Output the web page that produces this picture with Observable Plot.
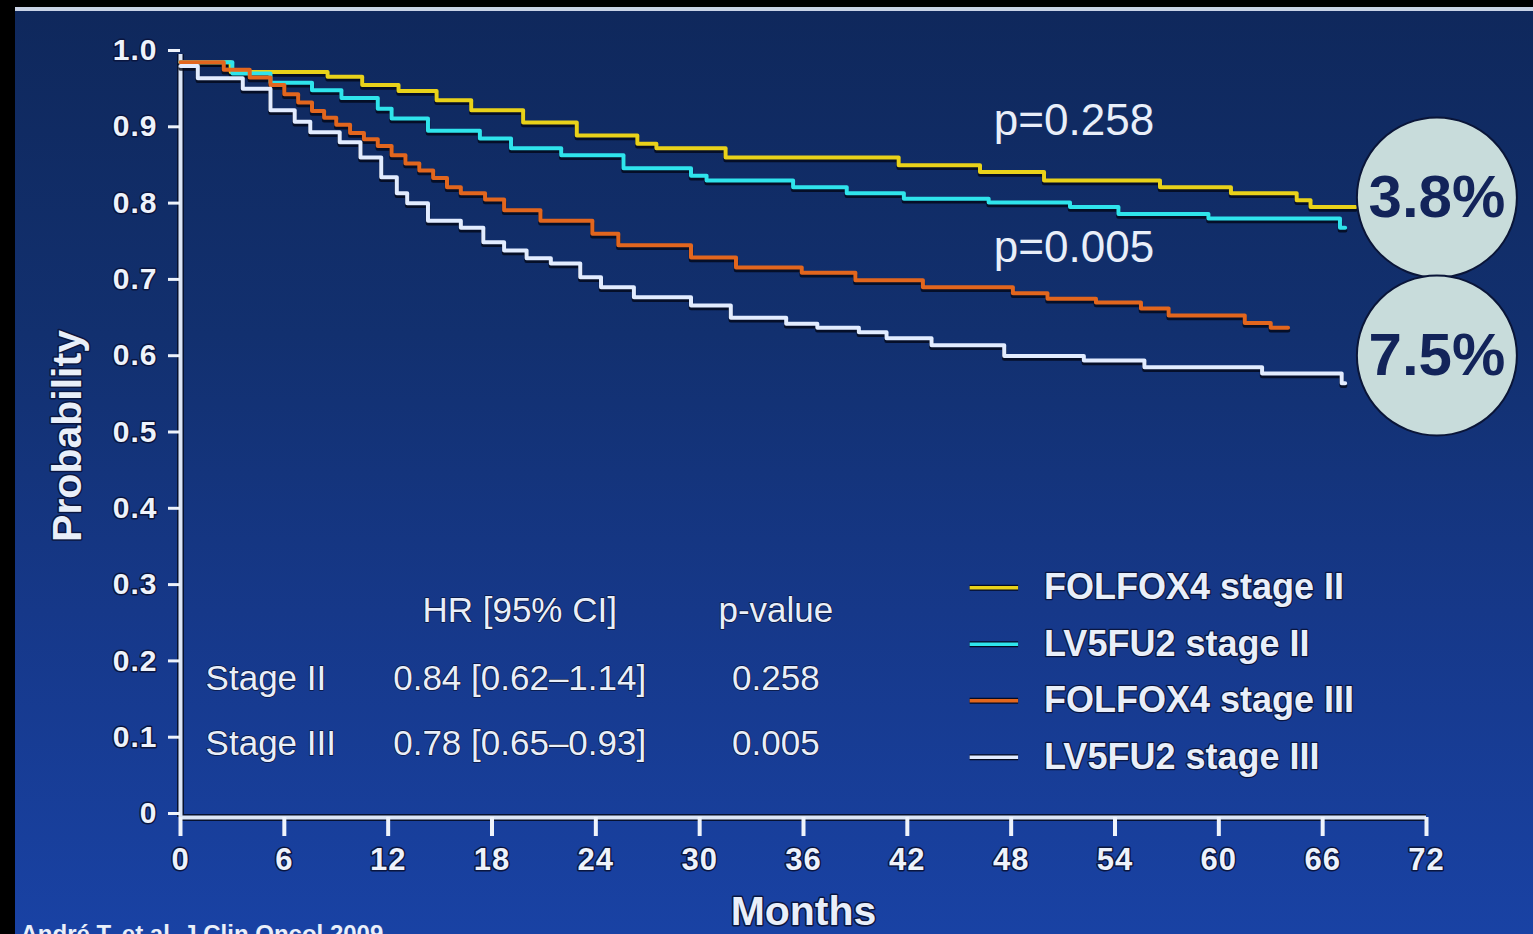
<!DOCTYPE html>
<html>
<head>
<meta charset="utf-8">
<script src="https://cdn.jsdelivr.net/npm/d3@7"></script>
<script src="https://cdn.jsdelivr.net/npm/@observablehq/plot@0.6"></script>
<style>
  html, body { margin: 0; padding: 0; background: #000; width: 1533px; height: 934px; overflow: hidden; }
  #bg { position: absolute; left: 15px; top: 7px; width: 1518px; height: 927px;
        border-top: 4px solid #c9d3e6; box-sizing: border-box;
        background: linear-gradient(180deg, #0f285c 0%, #12306f 35%, #163889 65%, #1942a4 100%); }
  #chart { position: absolute; left: 0; top: 0; }
  g[aria-label="hr-table"] text, g[aria-label="hr-stage"] text { letter-spacing: 1.5px; }
  g[aria-label="p-labels"] text { letter-spacing: 2.5px; }
  g[aria-label="legend-text"] text { letter-spacing: 1.7px; }
  g[aria-label="x-axis tick label"] text, g[aria-label="y-axis tick label"] text { letter-spacing: 1px; }
</style>
</head>
<body>
<div id="bg"></div>
<div id="chart"></div>
<script>
// ---------- data ----------
const monthTicks = [0, 6, 12, 18, 24, 30, 36, 42, 48, 54, 60, 66, 72];
const probTicks = [0, 0.1, 0.2, 0.3, 0.4, 0.5, 0.6, 0.7, 0.8, 0.9, 1.0];
const probTickLabels = ["0", "0.1", "0.2", "0.3", "0.4", "0.5", "0.6", "0.7", "0.8", "0.9", "1.0"];

const seriesNames = ["FOLFOX4 stage II", "LV5FU2 stage II", "FOLFOX4 stage III", "LV5FU2 stage III"];

const folfox4StageII_t = [0, 2.9, 8.5, 10.5, 12.6, 14.8, 16.8, 19.8, 22.9, 26.4, 27.5, 31.5, 41.5, 46.2, 49.9, 56.6, 60.7, 64.5, 65.3, 67.9];
const folfox4StageII_s = [0.99, 0.977, 0.971, 0.96, 0.952, 0.94, 0.927, 0.911, 0.894, 0.883, 0.877, 0.865, 0.855, 0.846, 0.835, 0.826, 0.818, 0.809, 0.80, 0.80];

const lv5fu2StageII_t = [0, 3.0, 5.2, 7.6, 9.3, 11.4, 12.2, 14.3, 17.3, 19.1, 22.0, 25.6, 29.5, 30.4, 35.4, 38.5, 41.8, 46.7, 51.4, 54.2, 59.4, 67.0, 67.3];
const lv5fu2StageII_s = [0.99, 0.975, 0.963, 0.953, 0.943, 0.929, 0.916, 0.90, 0.89, 0.877, 0.868, 0.851, 0.841, 0.835, 0.826, 0.818, 0.811, 0.806, 0.80, 0.791, 0.785, 0.773, 0.773];

const folfox4StageIII_t = [0, 2.5, 4.0, 5.2, 6.0, 6.8, 7.6, 8.3, 9.0, 9.8, 10.6, 11.4, 12.2, 13.0, 13.8, 14.6, 15.4, 16.2, 17.6, 18.7, 20.8, 23.8, 25.3, 29.5, 32.1, 35.9, 39.0, 42.9, 48.1, 50.1, 52.9, 55.5, 57.1, 61.5, 63.0, 64.0];
const folfox4StageIII_s = [0.99, 0.98, 0.97, 0.96, 0.948, 0.937, 0.926, 0.917, 0.908, 0.897, 0.889, 0.88, 0.868, 0.857, 0.848, 0.838, 0.826, 0.818, 0.81, 0.796, 0.782, 0.765, 0.75, 0.734, 0.721, 0.714, 0.704, 0.695, 0.687, 0.68, 0.675, 0.667, 0.658, 0.648, 0.642, 0.642];

const lv5fu2StageIII_t = [0, 1.0, 3.6, 5.2, 6.6, 7.5, 9.2, 10.4, 11.6, 12.5, 13.1, 14.3, 16.2, 17.5, 18.7, 20.0, 21.4, 23.1, 24.3, 26.2, 29.5, 31.8, 35.0, 36.8, 39.2, 40.8, 43.4, 47.6, 52.2, 55.7, 62.5, 67.1, 67.3];
const lv5fu2StageIII_s = [0.985, 0.969, 0.955, 0.927, 0.912, 0.898, 0.885, 0.865, 0.839, 0.818, 0.805, 0.782, 0.773, 0.754, 0.743, 0.733, 0.726, 0.708, 0.695, 0.682, 0.671, 0.655, 0.647, 0.642, 0.636, 0.628, 0.619, 0.605, 0.599, 0.59, 0.582, 0.569, 0.569];

const tableHeader = ["HR [95% CI]", "p-value"];
const tableStages = ["Stage II", "Stage III"];
const tableHR = ["0.84 [0.62\u20131.14]", "0.78 [0.65\u20130.93]"];
const tablePValues = ["0.258", "0.005"];
const pLabels = ["p=0.258", "p=0.005"];
const diffLabels = ["3.8%", "7.5%"];
const citation = "Andr\u00e9 T, et al. J Clin Oncol 2009";

// ---------- styles ----------
const seriesColors = ["#e9d21a", "#2fe4ec", "#e2661e", "#e2ecff"];
const font = "'Liberation Sans', Arial, sans-serif";
const textColor = "#e9eff9";
const halo = "#0a1640";

// ---------- build tables ----------
const curves = [
  [folfox4StageII_t, folfox4StageII_s],
  [lv5fu2StageII_t, lv5fu2StageII_s],
  [folfox4StageIII_t, folfox4StageIII_s],
  [lv5fu2StageIII_t, lv5fu2StageIII_s]
].flatMap(([t, s], i) => t.map((m, j) => ({series: seriesNames[i], t: m, s: s[j]})));

// annotation anchors (data coordinates)
const tableRowsY = [0.182, 0.096];
const tableHeaderY = 0.271;
const colStage = 1.45, colHR = 19.6, colP = 34.4;
const tableCentered = [
  {x: colHR, y: tableHeaderY, text: tableHeader[0]},
  {x: colP, y: tableHeaderY, text: tableHeader[1]},
  ...tableHR.map((t, i) => ({x: colHR, y: tableRowsY[i], text: t})),
  ...tablePValues.map((t, i) => ({x: colP, y: tableRowsY[i], text: t}))
];
const tableStageText = tableStages.map((t, i) => ({x: colStage, y: tableRowsY[i], text: t}));
const pLabelData = pLabels.map((p, i) => ({x: 47.0, y: [0.913, 0.746][i], text: p}));
const legendData = seriesNames.map((n, i) => ({name: n, y: 0.301 - i * 0.074}));
const bubbleData = diffLabels.map((d, i) => ({x: 72.6, y: [0.8125, 0.6055][i], text: d}));

const chart = Plot.plot({
  width: 1533,
  height: 934,
  marginLeft: 180,
  marginRight: 107,
  marginTop: 54,
  marginBottom: 117,
  style: {background: "transparent", color: textColor, fontFamily: font, overflow: "visible"},
  x: {domain: [0, 72], axis: null},
  y: {domain: [0, 1], axis: null},
  color: {domain: seriesNames, range: seriesColors},
  marks: [
    // axes lines
    Plot.ruleX([0], {stroke: "#06112e", strokeWidth: 7}),
    Plot.ruleY([0], {stroke: "#06112e", strokeWidth: 7}),
    Plot.ruleX([0], {stroke: "#dce6f6", strokeWidth: 4}),
    Plot.ruleY([0], {stroke: "#dce6f6", strokeWidth: 4}),
    Plot.axisY(probTicks, {
      anchor: "left", tickSize: 12, tickPadding: 11,
      tickFormat: (d) => probTickLabels[probTicks.indexOf(d)],
      fontSize: 30, fontWeight: "bold", fontFamily: font, color: "#eef3fb",
      strokeWidth: 3, dy: -4, textStroke: halo, textStrokeWidth: 3, label: null
    }),
    Plot.axisX(monthTicks, {
      anchor: "bottom", tickSize: 19, tickPadding: 11,
      fontSize: 31, fontWeight: "bold", fontFamily: font, color: "#eef3fb",
      strokeWidth: 4, textStroke: halo, textStrokeWidth: 3, label: null
    }),
    Plot.text(["Probability"], {
      frameAnchor: "left", dx: -113, rotate: -90, textAnchor: "middle", lineAnchor: "middle",
      fontSize: 41, fontWeight: "bold", fill: textColor, stroke: halo, strokeWidth: 3
    }),
    Plot.text(["Months"], {
      frameAnchor: "bottom", dy: 94, lineAnchor: "middle", fontSize: 41, fontWeight: "bold",
      fill: textColor, stroke: halo, strokeWidth: 3
    }),
    // curves: shadow then colored
    Plot.line(curves, {x: "t", y: "s", z: "series", curve: "step-after",
      stroke: "#020718", strokeWidth: 4.5, strokeOpacity: 0.8, dy: 2.5}),
    Plot.line(curves, {x: "t", y: "s", z: "series", stroke: "series", curve: "step-after",
      strokeWidth: 4}),
    // p labels
    Plot.text(pLabelData, {x: "x", y: "y", text: "text", textAnchor: "start",
      fontSize: 44, fill: textColor, ariaLabel: "p-labels"}),
    // HR table
    Plot.text(tableCentered, {x: "x", y: "y", text: "text", textAnchor: "middle",
      fontSize: 35, fill: textColor, stroke: halo, strokeWidth: 1.5, ariaLabel: "hr-table"}),
    Plot.text(tableStageText, {x: "x", y: "y", text: "text", textAnchor: "start",
      fontSize: 35, fill: textColor, stroke: halo, strokeWidth: 1.5, ariaLabel: "hr-stage"}),
    // legend
    Plot.link(legendData, {x1: 45.6, x2: 48.4, y1: "y", y2: "y", stroke: "#040b22", strokeWidth: 6}),
    Plot.link(legendData, {x1: 45.6, x2: 48.4, y1: "y", y2: "y", stroke: "name", strokeWidth: 3.5}),
    Plot.text(legendData, {x: 49.9, y: "y", text: "name", textAnchor: "start",
      fontSize: 36, fontWeight: "bold", fill: textColor, stroke: halo, strokeWidth: 2.5, ariaLabel: "legend-text"}),
    // bubbles
    Plot.dot(bubbleData, {x: "x", y: "y", r: 80, fill: "#c8dcdb", stroke: "#0a1538", strokeWidth: 2}),
    Plot.text(bubbleData, {x: "x", y: "y", text: "text", fontSize: 60, fontWeight: "bold", fill: "#13245a"}),
    // truncated citation at the bottom edge (cut off in the reference too)
    Plot.text([citation], {frameAnchor: "bottom-left", dx: -160, dy: 107, lineAnchor: "top",
      textAnchor: "start", fontSize: 24, fontWeight: "bold", fill: textColor})
  ]
});
document.getElementById("chart").appendChild(chart);
</script>
</body>
</html>
